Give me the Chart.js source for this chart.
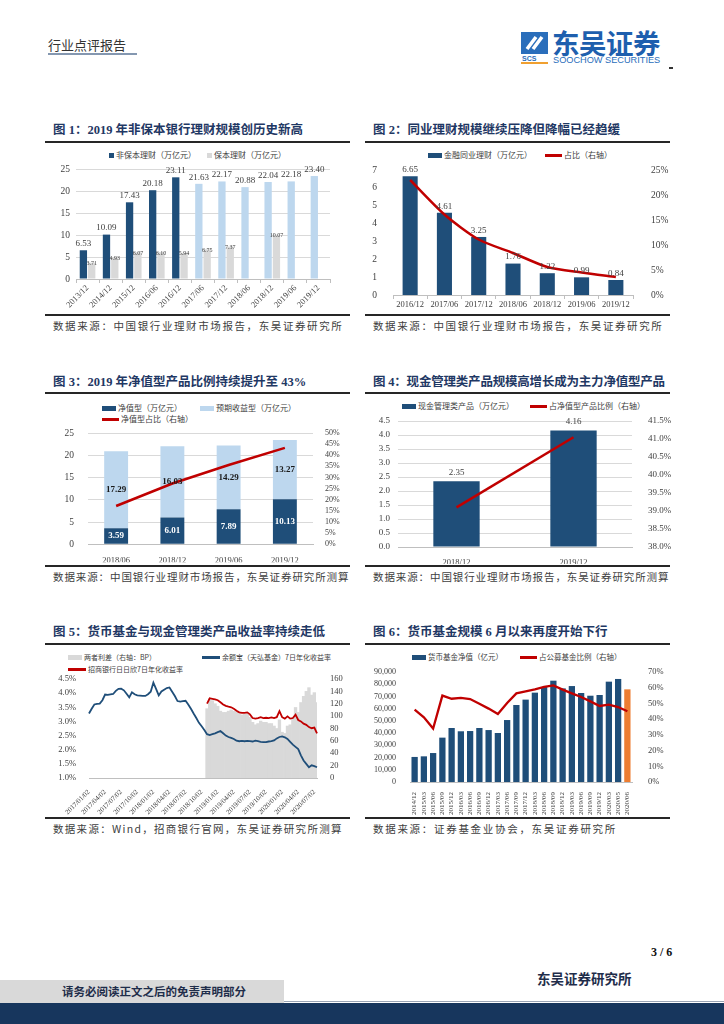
<!DOCTYPE html>
<html><head><meta charset="utf-8">
<script src="https://cdn.jsdelivr.net/npm/chart.js@4.4.0/dist/chart.umd.min.js"></script>
<style>
body{margin:0;width:724px;height:1024px;position:relative;background:#fff;overflow:hidden;font-family:"Liberation Serif","Noto Sans CJK SC",serif;}
.t{position:absolute;white-space:nowrap;}
.title{font-weight:bold;color:#1f3864;font-size:12.5px;line-height:18px;}
.hr{position:absolute;height:2px;background:#262626;}
.src{font-family:"Noto Sans CJK SC",sans-serif;font-size:10.5px;color:#404040;letter-spacing:1.6px;line-height:16px;}
.leg{position:absolute;font-family:"Noto Sans CJK SC",sans-serif;font-size:8px;color:#404040;white-space:nowrap;line-height:10px;display:flex;align-items:center;}
.bx{display:inline-block;width:14px;height:5px;margin-right:2px;}
.ln{display:inline-block;width:17px;height:3px;margin-right:2px;}
canvas{position:absolute;}
</style>
</head><body>

<!-- header -->
<div class="t" style="left:48px;top:36px;font-family:'Noto Sans CJK SC',sans-serif;font-size:13px;color:#333;line-height:18px;">行业点评报告</div>
<div class="t" style="left:48px;top:53px;width:89px;height:2px;background:#8497b0;"></div>
<svg class="t" style="left:521px;top:32px;" width="28" height="32" viewBox="0 0 28 32">
  <rect x="0" y="0" width="27" height="22" fill="#2a6ebb"/>
  <path d="M6 17 L15 5 M12 17 L21 5" stroke="#fff" stroke-width="3.5" fill="none"/>
  <text x="1" y="29" font-family="Liberation Sans,sans-serif" font-weight="bold" font-size="7" fill="#2a6ebb">SCS</text>
  <rect x="0" y="30" width="27" height="2" fill="#f0a030"/>
</svg>
<div class="t" style="left:552px;top:26px;font-family:'Noto Sans CJK SC',sans-serif;font-weight:bold;font-size:27.5px;color:#1e5fae;line-height:32px;letter-spacing:-0.5px;">东吴证券</div>
<div class="t" style="left:553px;top:55px;font-family:'Liberation Sans',sans-serif;font-size:9.2px;color:#2a6ebb;line-height:10px;">SOOCHOW SECURITIES</div>
<div class="t" style="left:669px;top:67px;width:4px;height:1.5px;background:#333;"></div>

<!-- panel titles & rules -->
<div class="t title" style="left:53px;top:121px;">图 1：2019 年非保本银行理财规模创历史新高</div>
<div class="t title" style="left:373px;top:121px;">图 2：同业理财规模继续压降但降幅已经趋缓</div>
<div class="hr" style="left:45px;top:141px;width:305px;"></div>
<div class="hr" style="left:365px;top:141px;width:305px;"></div>
<div class="hr" style="left:45px;top:314px;width:305px;"></div>
<div class="hr" style="left:365px;top:314px;width:305px;"></div>
<div class="t src" style="left:53px;top:318px;">数据来源：中国银行业理财市场报告，东吴证券研究所</div>
<div class="t src" style="left:373px;top:318px;">数据来源：中国银行业理财市场报告，东吴证券研究所</div>

<div class="t title" style="left:53px;top:373px;">图 3：2019 年净值型产品比例持续提升至 43%</div>
<div class="t title" style="left:373px;top:373px;letter-spacing:-0.2px;">图 4：现金管理类产品规模高增长成为主力净值型产品</div>
<div class="hr" style="left:45px;top:392px;width:305px;"></div>
<div class="hr" style="left:365px;top:392px;width:305px;"></div>
<div class="hr" style="left:45px;top:565px;width:305px;"></div>
<div class="hr" style="left:365px;top:565px;width:305px;"></div>
<div class="t src" style="left:53px;top:569px;letter-spacing:0.9px;">数据来源：中国银行业理财市场报告，东吴证券研究所测算</div>
<div class="t src" style="left:373px;top:569px;letter-spacing:0.9px;">数据来源：中国银行业理财市场报告，东吴证券研究所测算</div>

<div class="t title" style="left:53px;top:623px;">图 5：货币基金与现金管理类产品收益率持续走低</div>
<div class="t title" style="left:373px;top:623px;">图 6：货币基金规模 6 月以来再度开始下行</div>
<div class="hr" style="left:45px;top:643px;width:305px;"></div>
<div class="hr" style="left:365px;top:643px;width:305px;"></div>
<div class="hr" style="left:45px;top:817px;width:305px;"></div>
<div class="hr" style="left:365px;top:817px;width:305px;"></div>
<div class="t src" style="left:53px;top:821px;letter-spacing:1.3px;">数据来源：Wind，招商银行官网，东吴证券研究所测算</div>
<div class="t src" style="left:373px;top:821px;letter-spacing:1.7px;">数据来源：证券基金业协会，东吴证券研究所</div>

<!-- legends -->
<div class="leg" style="left:109px;top:150px;"><span class="bx" style="width:5px;height:5px;background:#1f4e79"></span>非保本理财（万亿元）</div>
<div class="leg" style="left:207px;top:150px;"><span class="bx" style="width:5px;height:5px;background:#d9d9d9"></span>保本理财（万亿元）</div>
<div class="leg" style="left:428px;top:150px;"><span class="bx" style="background:#1f4e79"></span>金融同业理财（万亿元）</div>
<div class="leg" style="left:545px;top:150px;"><span class="ln" style="background:#c00000"></span>占比（右轴）</div>

<div class="leg" style="left:102px;top:403px;"><span class="bx" style="background:#1f4e79"></span>净值型（万亿元）</div>
<div class="leg" style="left:200px;top:403px;"><span class="bx" style="background:#bdd7ee"></span>预期收益型（万亿元）</div>
<div class="leg" style="left:102px;top:414px;"><span class="ln" style="background:#c00000"></span>净值型占比（右轴）</div>
<div class="leg" style="left:402px;top:401px;"><span class="bx" style="background:#1f4e79"></span>现金管理类产品（万亿元）</div>
<div class="leg" style="left:530px;top:401px;"><span class="ln" style="background:#c00000"></span>占净值型产品比例（右轴）</div>

<div class="leg" style="left:68px;top:652px;font-size:7px;"><span class="bx" style="background:#d9d9d9"></span>两者利差（右轴：BP）</div>
<div class="leg" style="left:202px;top:652px;font-size:7px;"><span class="ln" style="background:#1f4e79;width:18px;"></span>余额宝（天弘基金）7日年化收益率</div>
<div class="leg" style="left:68px;top:664px;font-size:7px;"><span class="ln" style="background:#c00000;width:18px;"></span>招商银行日日欣7日年化收益率</div>
<div class="leg" style="left:412px;top:652px;font-size:7.5px;"><span class="bx" style="background:#1f4e79"></span>货币基金净值（亿元）</div>
<div class="leg" style="left:520px;top:652px;font-size:7.5px;"><span class="ln" style="background:#c00000"></span>占公募基金比例（右轴）</div>

<canvas id="c1" style="left:45px;top:145px;"></canvas>
<canvas id="c2" style="left:365px;top:145px;"></canvas>
<canvas id="c3" style="left:45px;top:395px;"></canvas>
<canvas id="c4" style="left:365px;top:395px;"></canvas>
<canvas id="c5" style="left:45px;top:645px;"></canvas>
<canvas id="c6" style="left:365px;top:645px;"></canvas>

<!-- footer -->
<div class="t" style="left:651px;top:944px;font-weight:bold;font-size:12px;color:#111;line-height:16px;">3 / 6</div>
<div class="t" style="left:537px;top:969px;font-family:'Noto Sans CJK SC',sans-serif;font-weight:bold;font-size:13.5px;color:#1f2d4a;line-height:18px;">东吴证券研究所</div>
<div class="t" style="left:0;top:980px;width:284px;height:23px;background:#d9d9d9;"></div>
<div class="t" style="left:62px;top:983px;font-family:'Noto Sans CJK SC',sans-serif;font-weight:bold;font-size:11.5px;color:#1f2d4a;line-height:17px;">请务必阅读正文之后的免责声明部分</div>
<div class="t" style="left:284px;top:1001px;width:440px;height:1px;background:#9aa5b5;"></div>
<div class="t" style="left:0;top:1003px;width:724px;height:21px;background:#17365d;"></div>

<script>
// ---------- DATA ----------
const periods1 = ['2013/12','2014/12','2015/12','2016/06','2016/12','2017/06','2017/12','2018/06','2018/12','2019/06','2019/12'];
const nonGuaranteed = [6.53,10.09,17.43,20.18,23.11,21.63,22.17,20.88,22.04,22.18,23.40];
const guaranteed = [3.71,4.93,6.07,6.10,5.94,6.75,7.37,null,10.07,null,null];

const periods2 = ['2016/12','2017/06','2017/12','2018/06','2018/12','2019/06','2019/12'];
const interbank = [6.65,4.61,3.25,1.76,1.22,0.99,0.84];
const interbankShare = [23.0,16.1,11.1,8.4,5.6,4.5,3.6];

const periods3 = ['2018/06','2018/12','2019/06','2019/12'];
const netValue = [3.59,6.01,7.89,10.13];
const expectedYield = [17.29,16.03,14.29,13.27];
const netValueShare = [17.2,27.3,35.6,43.3];

const periods4 = ['2018/12','2019/12'];
const cashMgmt = [2.35,4.16];
const cashMgmtShare = [39.1,41.05];

const dates5 = ['2017/01/02','2017/01/17','2017/02/02','2017/02/17','2017/03/02','2017/03/17','2017/04/02','2017/04/17','2017/05/02','2017/05/17','2017/06/02','2017/06/17',
'2017/07/02','2017/07/17','2017/08/02','2017/08/17','2017/09/02','2017/09/17','2017/10/02','2017/10/17','2017/11/02','2017/11/17','2017/12/02','2017/12/17',
'2018/01/02','2018/01/17','2018/02/02','2018/02/17','2018/03/02','2018/03/17','2018/04/02','2018/04/17','2018/05/02','2018/05/17','2018/06/02','2018/06/17',
'2018/07/02','2018/07/17','2018/08/02','2018/08/17','2018/09/02','2018/09/17','2018/10/02','2018/10/17','2018/11/02','2018/11/17','2018/12/02','2018/12/17',
'2019/01/02','2019/01/17','2019/02/02','2019/02/17','2019/03/02','2019/03/17','2019/04/02','2019/04/17','2019/05/02','2019/05/17','2019/06/02','2019/06/17',
'2019/07/02','2019/07/17','2019/08/02','2019/08/17','2019/09/02','2019/09/17','2019/10/02','2019/10/17','2019/11/02','2019/11/17','2019/12/02','2019/12/17',
'2020/01/02','2020/01/17','2020/02/02','2020/02/17','2020/03/02','2020/03/17','2020/04/02','2020/04/17','2020/05/02','2020/05/17','2020/06/02','2020/06/17',
'2020/07/02','2020/07/17'];
const tickDates5 = ['2017/01/02','2017/04/02','2017/07/02','2017/10/02','2018/01/02','2018/04/02','2018/07/02','2018/10/02','2019/01/02','2019/04/02','2019/07/02','2019/10/02','2020/01/02','2020/04/02','2020/07/02'];
const yuebao = [3.28,3.45,3.60,3.62,3.63,3.75,3.95,3.94,3.96,3.97,
4.08,4.15,4.16,4.10,3.98,3.85,4.03,3.96,3.92,3.91,
3.90,3.90,3.96,4.05,4.37,4.15,3.92,4.06,4.12,4.18,
4.20,4.05,3.90,3.72,3.70,3.72,3.73,3.60,3.45,3.28,
3.12,2.95,2.83,2.70,2.55,2.52,2.55,2.58,2.62,2.66,
2.58,2.50,2.45,2.42,2.38,2.32,2.30,2.31,2.30,2.31,
2.30,2.29,2.32,2.30,2.28,2.27,2.27,2.29,2.30,2.33,
2.40,2.45,2.47,2.44,2.38,2.28,2.18,2.10,2.02,1.80,
1.62,1.50,1.38,1.45,1.42,1.38];
const cmbRiRiXin = [null,null,null,null,null,null,null,null,null,null,
null,null,null,null,null,null,null,null,null,null,
null,null,null,null,null,null,null,null,null,null,
null,null,null,null,null,null,null,null,null,null,
null,null,null,null,3.63,3.82,3.80,3.78,3.75,3.68,
3.60,3.55,3.52,3.50,3.45,3.38,3.32,3.30,3.30,3.32,
3.25,3.12,3.10,3.12,3.15,3.12,3.13,3.12,3.14,3.12,
3.15,3.36,3.15,3.10,3.18,3.10,3.12,3.24,3.05,3.00,
2.92,2.88,2.80,2.76,2.78,2.58];
const spreadBP = [null,null,null,null,null,null,null,null,null,null,
null,null,null,null,null,null,null,null,null,null,
null,null,null,null,null,null,null,null,null,null,
null,null,null,null,null,null,null,null,null,null,
null,null,null,null,112,128,125,120,116,108,
106,106,108,110,108,107,104,102,103,104,
98,90,86,88,92,90,90,88,88,84,
80,94,74,72,84,86,96,114,106,122,
132,140,146,134,138,122];

const periods6 = ['2014/12','2015/03','2015/06','2015/09','2015/12','2016/03','2016/06','2016/09','2016/12','2017/03','2017/06','2017/09','2017/12','2018/03','2018/06','2018/09','2018/12','2019/03','2019/06','2019/09','2019/12','2020/03','2020/05','2020/06'];
const mmfNav = [20500,21000,23700,36300,44200,41500,41700,44200,42500,40100,50700,63000,67400,73100,77700,82900,76600,78500,72800,70600,71200,82100,84300,75800];
const mmfShare = [46.0,41.2,34.0,55.0,53.0,53.5,52.8,49.8,46.7,43.3,50.3,56.4,57.7,59.0,60.5,61.5,58.8,56.4,54.1,51.3,48.4,49.2,47.7,45.0];

// ---------- STYLE ----------
const NAVY='#1f4e79', LIGHT='#bdd7ee', GRAY='#d9d9d9', RED='#c00000', ORANGE='#ed7d31', GRID='#d9d9d9', AXIS='#bfbfbf';
const SERIF='"Liberation Serif","Noto Sans CJK SC",serif';
Chart.defaults.font.family = SERIF;
Chart.defaults.color = '#404040';
Chart.defaults.animation = false;
Chart.defaults.plugins.legend.display = false;
Chart.defaults.plugins.tooltip.enabled = false;

const valueLabels = {
  id:'valueLabels',
  afterDatasetsDraw(chart){
    const ctx = chart.ctx;
    chart.data.datasets.forEach((ds,i)=>{
      const cfg = ds.valueLabel; if(!cfg) return;
      const meta = chart.getDatasetMeta(i);
      meta.data.forEach((el,j)=>{
        const v = ds.data[j]; if(v==null) return;
        ctx.save();
        ctx.font = cfg.font; ctx.fillStyle = cfg.color; ctx.textAlign='center';
        let y;
        if(cfg.pos==='center'){ y=(el.y+el.base)/2; ctx.textBaseline='middle'; }
        else { y = el.y - (cfg.offset==null?2:cfg.offset); ctx.textBaseline='bottom'; }
        ctx.fillText(v.toFixed(2), el.x, y);
        ctx.restore();
      });
    });
  }
};
function sz(id,w,h){const c=document.getElementById(id);c.width=w;c.height=h;c.style.width=w+'px';c.style.height=h+'px';return c;}
const fixW = w => s => { s.width = w; };
const fixH = h => s => { s.height = h; };
const catTickGrid = {display:true, drawOnChartArea:false, drawTicks:true, tickLength:4, offset:true, color:AXIS};

// Chart 1
new Chart(sz('c1',305,169), {
  type:'bar',
  data:{labels:periods1, datasets:[
    {data:nonGuaranteed, backgroundColor:[NAVY,NAVY,NAVY,NAVY,NAVY,LIGHT,LIGHT,LIGHT,LIGHT,LIGHT,LIGHT], barPercentage:0.88, categoryPercentage:0.72,
     valueLabel:{font:'9px '+SERIF, color:'#404040', offset:2}},
    {data:guaranteed, backgroundColor:GRAY, barPercentage:0.88, categoryPercentage:0.72,
     valueLabel:{font:'6px '+SERIF, color:'#404040', offset:-4}}
  ]},
  options:{responsive:false, layout:{padding:{top:24,right:20,left:0,bottom:0}},
    scales:{
      x:{grid:catTickGrid, border:{color:AXIS}, ticks:{font:{size:8.5}, minRotation:45, maxRotation:45, padding:0, autoSkip:false}, afterFit:fixH(35)},
      y:{min:0,max:25, ticks:{stepSize:5, autoSkip:false, font:{size:9.5}, padding:6}, grid:{color:GRID, drawTicks:false}, border:{display:false}, afterFit:fixW(31)}
    }},
  plugins:[valueLabels]
});

// Chart 2
new Chart(sz('c2',307,169), {
  data:{labels:periods2, datasets:[
    {type:'line', data:interbankShare, yAxisID:'y1', borderColor:RED, borderWidth:2.5, pointRadius:0, tension:0.25, order:0},
    {type:'bar', data:interbank, yAxisID:'y', backgroundColor:NAVY, barPercentage:0.5, categoryPercentage:0.88, order:1,
     valueLabel:{font:'9px '+SERIF, color:'#404040', offset:2}}
  ]},
  options:{responsive:false, layout:{padding:{top:25,right:0,left:0,bottom:0}},
    scales:{
      x:{grid:catTickGrid, border:{color:AXIS}, ticks:{font:{size:8.5}, maxRotation:0, padding:1, autoSkip:false}, afterFit:fixH(19)},
      y:{position:'left', min:0,max:7, ticks:{stepSize:1, autoSkip:false, font:{size:9.5}, padding:8}, grid:{display:false}, border:{display:false}, afterFit:fixW(28)},
      y1:{position:'right', min:0,max:25, ticks:{stepSize:5, autoSkip:false, font:{size:9.5}, padding:10, callback:v=>v+'%'}, grid:{display:false}, border:{display:false}, afterFit:fixW(39)}
    }},
  plugins:[valueLabels]
});

// Chart 3
new Chart(sz('c3',305,169), {
  data:{labels:periods3, datasets:[
    {type:'line', data:netValueShare, yAxisID:'y1', borderColor:RED, borderWidth:2.5, pointRadius:0, order:0},
    {type:'bar', data:netValue, yAxisID:'y', stack:'s', backgroundColor:NAVY, barPercentage:0.5, categoryPercentage:0.85, order:1,
     valueLabel:{font:'bold 9px '+SERIF, color:'#ffffff', pos:'center'}},
    {type:'bar', data:expectedYield, yAxisID:'y', stack:'s', backgroundColor:LIGHT, barPercentage:0.5, categoryPercentage:0.85, order:2,
     valueLabel:{font:'bold 9px '+SERIF, color:'#1a1a1a', pos:'center'}}
  ]},
  options:{responsive:false, layout:{padding:{top:38,right:0,left:0,bottom:0}},
    scales:{
      x:{stacked:true, grid:{display:false}, border:{color:AXIS}, ticks:{font:{size:8.5}, maxRotation:0, padding:3, autoSkip:false}, afterFit:fixH(18)},
      y:{stacked:true, position:'left', min:0,max:25, ticks:{stepSize:5, autoSkip:false, font:{size:9.5}, padding:14}, grid:{color:GRID, drawTicks:false}, border:{display:false}, afterFit:fixW(43)},
      y1:{position:'right', min:0,max:50, ticks:{stepSize:5, autoSkip:false, font:{size:8}, padding:4, callback:v=>v+'%'}, grid:{display:false}, border:{display:false}, afterFit:fixW(37)}
    }},
  plugins:[valueLabels]
});

// Chart 4
new Chart(sz('c4',307,169), {
  data:{labels:periods4, datasets:[
    {type:'line', data:cashMgmtShare, yAxisID:'y1', borderColor:RED, borderWidth:2.5, pointRadius:0, order:0},
    {type:'bar', data:cashMgmt, yAxisID:'y', backgroundColor:NAVY, barPercentage:0.45, categoryPercentage:0.88, order:1,
     valueLabel:{font:'9px '+SERIF, color:'#404040', offset:4}}
  ]},
  options:{responsive:false, layout:{padding:{top:26,right:0,left:0,bottom:0}},
    scales:{
      x:{grid:{display:false}, border:{color:AXIS}, ticks:{font:{size:8.5}, maxRotation:0, padding:3, autoSkip:false}, afterFit:fixH(17)},
      y:{position:'left', min:0,max:4.5, ticks:{stepSize:0.5, autoSkip:false, font:{size:9}, padding:8, callback:v=>v.toFixed(1)}, grid:{color:GRID, drawTicks:false}, border:{display:false}, afterFit:fixW(33)},
      y1:{position:'right', min:38,max:41.5, ticks:{stepSize:0.5, autoSkip:false, font:{size:9}, padding:8, callback:v=>v.toFixed(1)+'%'}, grid:{display:false}, border:{display:false}, afterFit:fixW(40)}
    }},
  plugins:[valueLabels]
});

// Chart 5
new Chart(sz('c5',305,171), {
  data:{labels:dates5, datasets:[
    {type:'line', data:cmbRiRiXin, yAxisID:'y', borderColor:RED, borderWidth:1.8, pointRadius:0, order:0, spanGaps:false},
    {type:'line', data:yuebao, yAxisID:'y', borderColor:NAVY, borderWidth:1.8, pointRadius:0, order:1},
    {type:'bar', data:spreadBP, yAxisID:'y1', backgroundColor:GRAY, barPercentage:1, categoryPercentage:1, order:2}
  ]},
  options:{responsive:false, layout:{padding:{top:34,right:0,left:0,bottom:0}},
    scales:{
      x:{offset:false, grid:{display:false}, border:{color:AXIS}, ticks:{font:{size:7}, minRotation:45, maxRotation:45, padding:2, autoSkip:false,
          callback:function(v){const l=this.getLabelForValue(v);return tickDates5.includes(l)?l:null;}}, afterFit:fixH(38)},
      y:{position:'left', min:1,max:4.5, ticks:{stepSize:0.5, autoSkip:false, font:{size:8.5}, padding:5, callback:v=>v.toFixed(1)+'%'}, grid:{display:false}, border:{display:false}, afterFit:fixW(44)},
      y1:{position:'right', min:0,max:160, ticks:{stepSize:20, autoSkip:false, font:{size:8.5}, padding:5}, grid:{display:false}, border:{display:false}, afterFit:fixW(33)}
    }}
});

// Chart 6
new Chart(sz('c6',307,171), {
  data:{labels:periods6, datasets:[
    {type:'line', data:mmfShare, yAxisID:'y1', borderColor:RED, borderWidth:2.3, pointRadius:0, order:0},
    {type:'bar', data:mmfNav, yAxisID:'y', backgroundColor:[NAVY,NAVY,NAVY,NAVY,NAVY,NAVY,NAVY,NAVY,NAVY,NAVY,NAVY,NAVY,NAVY,NAVY,NAVY,NAVY,NAVY,NAVY,NAVY,NAVY,NAVY,NAVY,NAVY,ORANGE], barPercentage:0.68, categoryPercentage:1, order:1}
  ]},
  options:{responsive:false, layout:{padding:{top:27,right:0,left:0,bottom:0}},
    scales:{
      x:{grid:{display:false}, border:{color:AXIS}, ticks:{font:{size:7}, minRotation:90, maxRotation:90, padding:2, autoSkip:false}, afterFit:fixH(34)},
      y:{position:'left', min:0,max:90000, ticks:{stepSize:10000, autoSkip:false, font:{size:8}, padding:6}, grid:{display:false}, border:{display:false}, afterFit:fixW(45)},
      y1:{position:'right', min:0,max:70, ticks:{stepSize:10, autoSkip:false, font:{size:8.5}, padding:8, callback:v=>v+'%'}, grid:{display:false}, border:{display:false}, afterFit:fixW(40)}
    }}
});
</script>
</body></html>
